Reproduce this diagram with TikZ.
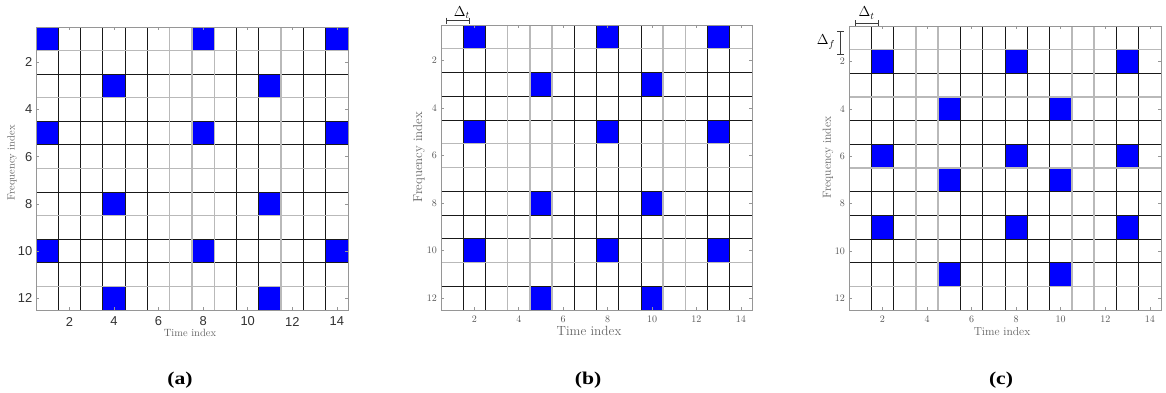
\documentclass[tikz,border=0pt]{standalone}
\usepackage{fontspec}
\usepackage{graphicx}
\newfontfamily\sansticks{Liberation Sans}
\newfontfamily\capserif{Liberation Serif}
\definecolor{cellblue}{RGB}{0,0,255}
\definecolor{gridline}{RGB}{25,25,25}
\definecolor{gridlight}{RGB}{185,185,185}
\definecolor{axisline}{RGB}{150,150,150}
\definecolor{ticktext}{RGB}{85,85,85}
\definecolor{ticktexta}{RGB}{50,50,50}
\definecolor{labeltext}{RGB}{100,100,100}
\definecolor{annot}{RGB}{60,60,60}
\tikzset{
  cell/.style={fill=cellblue},
  gridl/.style={draw=gridline, line width=0.85pt},
  gridg/.style={draw=gridlight, line width=1.4pt},
  axisbox/.style={draw=axisline, line width=0.9pt},
  tickmark/.style={draw=axisline, line width=0.6pt},
  bracketline/.style={draw=annot, line width=0.7pt},
  ticklabela/.style={text=ticktexta, inner sep=0pt, font=\sansticks\fontsize{12.9}{14}\selectfont},
  ticklabel/.style={text=ticktext, inner sep=0pt, font=\fontsize{10}{12}\selectfont},
  axlabel/.style={text=labeltext, inner sep=0pt},
  deltalabel/.style={text=black, inner sep=0pt, font=\fontsize{14}{16}\selectfont},
  caption/.style={text=black, inner sep=0pt, font=\capserif\bfseries\fontsize{18}{20}\selectfont}
}
\newcommand\panelgrid[2]{%
  \foreach \u in {1,...,13} \draw[gridl] (\u,0) -- (\u,12);
  \foreach \v in {1,...,11} \draw[gridl] (0,\v) -- (14,\v);
  \foreach \u in {#1} \draw[gridg] (\u,0) -- (\u,12);
  \foreach \v in {#2} \draw[gridg] (0,\v) -- (14,\v);
  \draw[axisbox] (0,0) rectangle (14,12);
  \foreach \t in {2,4,...,14} {
    \draw[tickmark] (\t-0.5,12) -- ++(0pt,3pt);
    \draw[tickmark] (\t-0.5,0) -- ++(0pt,-3pt);
  }
  \foreach \f in {2,4,...,12} {
    \draw[tickmark] (0,\f-0.5) -- ++(3pt,0pt);
    \draw[tickmark] (14,\f-0.5) -- ++(-3pt,0pt);
  }
}
\begin{document}
\begin{tikzpicture}[x=1pt,y=-1pt]
\useasboundingbox[fill=white] (0,0) rectangle (1166,392);

% ---------------- panel (a)
\begin{scope}[shift={(36pt,-27pt)}, x=22.286pt, y=-23.583pt]
  \foreach \c/\r in {1/1,8/1,14/1,4/3,11/3,1/5,8/5,14/5,4/8,11/8,1/10,8/10,14/10,4/12,11/12}
    \fill[cell] (\c-1,\r-1) rectangle (\c,\r);
  \panelgrid{6,7,8,11}{1,3,6,8,11}
  \foreach \t in {2,4,...,14}
    \node[ticklabela] (ax\t) at ([yshift=-11.5pt]\t-0.5,12) {\t};
  \foreach \f in {2,4,...,12}
    \node[ticklabela, anchor=east] (ay\f) at ([xshift=-3.5pt]0,\f-0.5) {\f};
\end{scope}
\node[axlabel, font=\fontsize{10.5}{12}\selectfont] (atime) at (190,333) {Time index};
\node[axlabel, font=\fontsize{10.5}{12}\selectfont, rotate=90] (afreq) at (12,163) {Frequency index};
\node[caption] (capa) at (180,380) {\scalebox{1.2}[1]{(a)}};

% ---------------- panel (b)
\begin{scope}[shift={(441pt,-25pt)}, x=22.214pt, y=-23.75pt]
  \foreach \c/\r in {2/1,8/1,13/1,5/3,10/3,2/5,8/5,13/5,5/8,10/8,2/10,8/10,13/10,5/12,10/12}
    \fill[cell] (\c-1,\r-1) rectangle (\c,\r);
  \panelgrid{3,4,5,10,11}{1,5,6,10}
  \foreach \t in {2,4,...,14}
    \node[ticklabel] (bx\t) at ([yshift=-9.3pt]\t-0.5,12) {\t};
  \foreach \f in {2,4,...,12}
    \node[ticklabel, anchor=east] (by\f) at ([xshift=-4pt]0,\f-0.5) {\f};
\end{scope}
\node[axlabel, font=\fontsize{13.3}{15}\selectfont] (btime) at (589,331) {Time index};
\node[axlabel, font=\fontsize{12.9}{15}\selectfont, rotate=90] (bfreq) at (419,157) {Frequency index};
\coordinate (bdl) at (446,20.7);
\coordinate (bdr) at (469,20.7);
\draw[bracketline] ([yshift=3pt]bdl) -- ([yshift=-3pt]bdl) (bdl) -- (bdr) ([yshift=3pt]bdr) -- ([yshift=-3pt]bdr);
\node[deltalabel] (bdt) at (461.7,12.5) {$\Delta_t$};
\node[caption] (capb) at (588,380) {\scalebox{1.2}[1]{(b)}};

% ---------------- panel (c)
\begin{scope}[shift={(849pt,-26pt)}, x=22.286pt, y=-23.667pt]
  \foreach \c/\r in {2/2,8/2,13/2,5/4,10/4,2/6,8/6,13/6,5/7,10/7,2/9,8/9,13/9,5/11,10/11}
    \fill[cell] (\c-1,\r-1) rectangle (\c,\r);
  \panelgrid{3,4,10,11}{1,3,6,11}
  \foreach \t in {2,4,...,14}
    \node[ticklabel] (cx\t) at ([yshift=-9.3pt]\t-0.5,12) {\t};
  \foreach \f in {2,4,...,12}
    \node[ticklabel, anchor=east] (cy\f) at ([xshift=-4pt]0,\f-0.5) {\f};
\end{scope}
\node[axlabel, font=\fontsize{11.6}{14}\selectfont] (ctime) at (1002,331.5) {Time index};
\node[axlabel, font=\fontsize{11.7}{14}\selectfont, rotate=90] (cfreq) at (828,157.5) {Frequency index};
\coordinate (cdl) at (855,23.3);
\coordinate (cdr) at (878.3,23.3);
\draw[bracketline] ([yshift=3pt]cdl) -- ([yshift=-3pt]cdl) (cdl) -- (cdr) ([yshift=3pt]cdr) -- ([yshift=-3pt]cdr);
\node[deltalabel] (cdt) at (866.5,13) {$\Delta_t$};
\coordinate (cft) at (840.7,31);
\coordinate (cfb) at (840.7,54.3);
\draw[bracketline] ([xshift=-3.7pt]cft) -- ([xshift=3.7pt]cft) (cft) -- (cfb) ([xshift=-3.7pt]cfb) -- ([xshift=3.7pt]cfb);
\node[deltalabel] (cdf) at (826,42) {$\Delta_f$};
\node[caption] (capc) at (1001,380) {\scalebox{1.2}[1]{(c)}};
\end{tikzpicture}
\end{document}
